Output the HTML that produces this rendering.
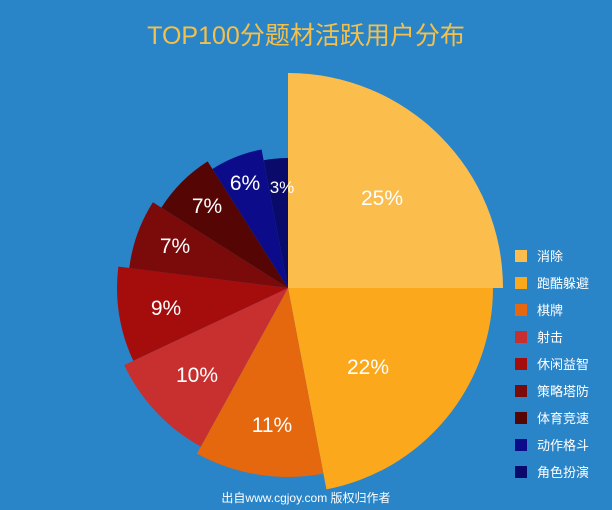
<!DOCTYPE html>
<html><head><meta charset="utf-8"><style>
html,body{margin:0;padding:0}
body{width:612px;height:510px;background:#2a84c8;overflow:hidden;font-family:"Liberation Sans","Noto Sans CJK SC",sans-serif}
</style></head><body>
<svg id="s" width="612" height="510" xmlns="http://www.w3.org/2000/svg" style="position:absolute;left:0;top:0">
<text x="306" y="44" text-anchor="middle" font-size="25" fill="#f5c04a" font-family="Liberation Sans,Noto Sans CJK SC,sans-serif">TOP100分题材活跃用户分布</text>
<g id="pie"></g>
<g font-size="21" fill="#fff" text-anchor="middle" font-family="Liberation Sans,sans-serif">
<text x="382" y="205">25%</text>
<text x="368" y="374">22%</text>
<text x="272" y="432">11%</text>
<text x="197" y="382">10%</text>
<text x="166" y="315">9%</text>
<text x="175" y="253">7%</text>
<text x="207" y="213">7%</text>
<text x="245" y="190">6%</text>
<text x="282" y="193" font-size="17">3%</text>
</g>
<g id="leg" font-size="13" fill="#fff" font-family="Liberation Sans,Noto Sans CJK SC,sans-serif"></g>
<text x="306" y="502" text-anchor="middle" font-size="12" fill="#fff" font-family="Liberation Sans,Noto Sans CJK SC,sans-serif">出自www.cgjoy.com 版权归作者</text>
</svg>
<script>
var cx=288,cy=288;
var d=[[25,215,"#fbbd4c","消除"],[22,205,"#fca81c","跑酷躲避"],[11,189,"#e5670e","棋牌"],[10,181,"#c83030","射击"],[9,171,"#a50d0d","休闲益智"],[7,160,"#7b0a0a","策略塔防"],[7,150,"#560505","体育竞速"],[6,141,"#0c0c8a","动作格斗"],[3,130,"#0a0a6b","角色扮演"]];
var ns="http://www.w3.org/2000/svg",pie=document.getElementById("pie"),leg=document.getElementById("leg");
var c=0;
d.forEach(function(e,i){
 var a0=c/100*2*Math.PI;c+=e[0];var a1=c/100*2*Math.PI;
 var r=e[1];
 var x0=cx+r*Math.sin(a0),y0=cy-r*Math.cos(a0),x1=cx+r*Math.sin(a1),y1=cy-r*Math.cos(a1);
 var p=document.createElementNS(ns,"path");
 p.setAttribute("d","M"+cx+","+cy+"L"+x0+","+y0+"A"+r+","+r+" 0 "+(e[0]>50?1:0)+" 1 "+x1+","+y1+"Z");
 p.setAttribute("fill",e[2]);pie.appendChild(p);
 var y=256+27*i;
 var q=document.createElementNS(ns,"rect");
 q.setAttribute("x",515);q.setAttribute("y",y-6);q.setAttribute("width",12);q.setAttribute("height",12);q.setAttribute("fill",e[2]);leg.appendChild(q);
 var t=document.createElementNS(ns,"text");t.setAttribute("x",537);t.setAttribute("y",y+5);t.textContent=e[3];leg.appendChild(t);
});
</script>
</body></html>
